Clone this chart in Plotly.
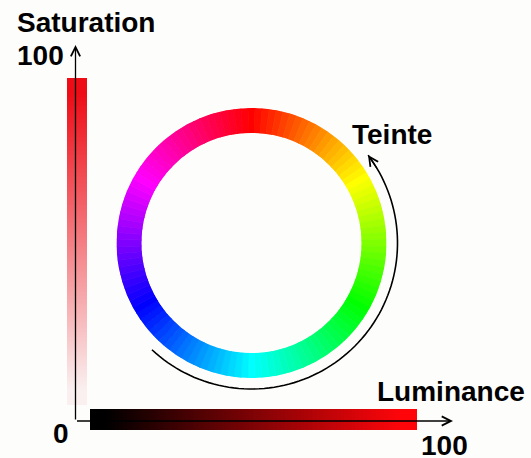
import plotly.graph_objects as go

W, H = 531, 458

# Hue wheel categories (degrees, clockwise from top)
hue_degrees = list(range(0, 360, 3))
hue_colors = [f"hsl({h},100%,50%)" for h in hue_degrees]

# Gradient levels for the two bars (0..100)
luminance_levels = [0, 10, 20, 30, 40, 50, 60, 70, 80, 90, 100]
saturation_levels = [0, 10, 20, 30, 40, 50, 60, 70, 80, 90, 100]

# Labels
title_saturation = "Saturation"
title_luminance = "Luminance"
title_hue = "Teinte"
tick_low = "0"
tick_high = "100"

# Hue arc (degrees) shown around the wheel
arc_theta = list(range(223, 52, -2))


def px(x):
    return x / W


def py(y):
    return 1 - y / H


fig = go.Figure()

# Colour wheel
fig.add_trace(go.Barpolar(
    r=[1] * len(hue_degrees), theta=hue_degrees, width=[3] * len(hue_degrees),
    marker=dict(color=hue_colors, line=dict(color=hue_colors, width=0.8)),
    subplot="polar", hoverinfo="skip", showlegend=False))

# Hue arc
fig.add_trace(go.Scatterpolar(
    r=[1] * len(arc_theta), theta=arc_theta, mode="lines",
    line=dict(color="black", width=1.6), subplot="polar2",
    hoverinfo="skip", showlegend=False))

# Luminance bar
fig.add_trace(go.Heatmap(
    z=[luminance_levels], x=luminance_levels, y=[0], zsmooth="best",
    colorscale=[[0, "rgb(0,0,0)"], [1, "rgb(255,5,10)"]], showscale=False,
    xaxis="x", yaxis="y", hoverinfo="skip"))

# Saturation bar
fig.add_trace(go.Heatmap(
    z=[[s] for s in saturation_levels], y=saturation_levels, x=[0], zsmooth="best",
    colorscale=[[0, "rgb(250,240,240)"], [1, "rgb(238,12,22)"]], showscale=False,
    xaxis="x2", yaxis="y2", hoverinfo="skip"))

cx, cy = 251.5, 243
Rw = 135
Ra = 146 * 1.05

font = dict(family="Liberation Sans, Arial, sans-serif", size=28, color="black")


def label(text, x, y):
    return dict(text=f"<b>{text}</b>", x=px(x), y=py(y), xref="paper", yref="paper",
                showarrow=False, font=font, xanchor="center", yanchor="middle")


def arrow(x, y, ax, ay):
    return dict(text="", x=px(x), y=py(y), xref="paper", yref="paper",
                showarrow=True, ax=ax, ay=ay, axref="pixel", ayref="pixel",
                arrowhead=5, arrowwidth=1.3, arrowsize=1.4, arrowcolor="black",
                standoff=0, startstandoff=0)


annotations = [
    label(title_saturation, 86, 23),
    label(tick_high, 40, 55),
    label(tick_low, 61, 433),
    label(title_luminance, 451, 391),
    label(tick_high, 444, 445),
    label(title_hue, 392, 134),
    arrow(75.5, 45, 0, 376),
    arrow(453, 421, -377.5, 0),
    arrow(368, 155, 10, 15),
]

fig.update_layout(
    width=W, height=H,
    margin=dict(l=0, r=0, t=0, b=0),
    paper_bgcolor="#fdfdfb", plot_bgcolor="rgba(0,0,0,0)",
    showlegend=False,
    polar=dict(
        domain=dict(x=[px(cx - Rw), px(cx + Rw)], y=[py(cy + Rw), py(cy - Rw)]),
        hole=110 / 135, bgcolor="rgba(0,0,0,0)", bargap=0,
        radialaxis=dict(visible=False, range=[0, 1]),
        angularaxis=dict(visible=False, rotation=90, direction="clockwise"),
    ),
    polar2=dict(
        domain=dict(x=[px(cx - Ra), px(cx + Ra)], y=[py(cy + Ra), py(cy - Ra)]),
        bgcolor="rgba(0,0,0,0)",
        radialaxis=dict(visible=False, range=[0, 1.05]),
        angularaxis=dict(visible=False, rotation=90, direction="clockwise"),
    ),
    xaxis=dict(domain=[px(90), px(417)], visible=False, fixedrange=True),
    yaxis=dict(domain=[py(430), py(409)], visible=False, fixedrange=True),
    xaxis2=dict(domain=[px(67), px(87)], visible=False, fixedrange=True),
    yaxis2=dict(domain=[py(405), py(78)], visible=False, fixedrange=True),
    annotations=annotations,
)

fig.write_html(
    "out.html",
    config={"displayModeBar": False},
    post_script="document.body.style.margin='0';document.body.style.padding='0';"
                "document.body.style.overflow='hidden';",
)
